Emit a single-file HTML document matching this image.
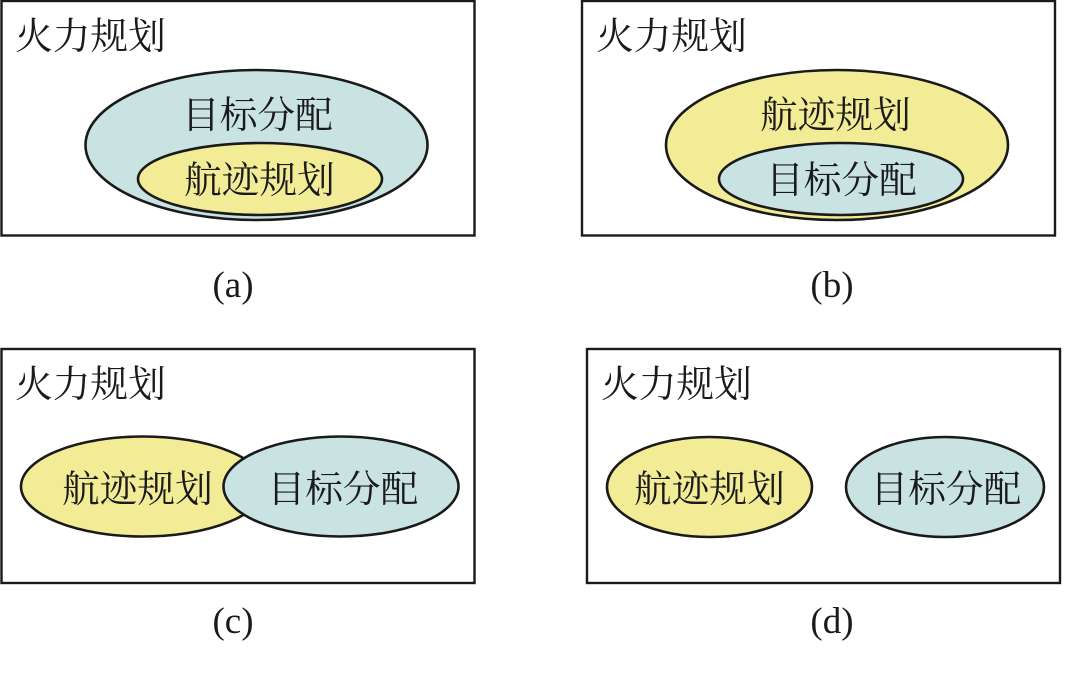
<!DOCTYPE html>
<html><head><meta charset="utf-8"><style>
html,body{margin:0;padding:0;background:#fff;width:1080px;height:695px;overflow:hidden}
svg{display:block}
text{font-family:"Liberation Serif","Noto Serif CJK SC",serif;fill:#1a1a1a}
.c{font-size:37.7px;text-anchor:start}
.l{font-size:37px;text-anchor:middle}
rect{fill:#fff;stroke:#1a1a1a;stroke-width:2.4}
ellipse{stroke:#1a1a1a;stroke-width:2.6}
.y{fill:#f3ec97}.b{fill:#c9e3e3}
</style></head><body>
<svg width="1080" height="695" viewBox="0 0 1080 695" xmlns="http://www.w3.org/2000/svg">
<rect x="1.5" y="1" width="473" height="234.500"/>
<ellipse class="b" cx="256.500" cy="145" rx="171" ry="75"/>
<ellipse class="y" cx="260" cy="179" rx="122" ry="36"/>
<text class="c" x="15" y="49">火力规划</text>
<text class="c" x="182" y="128">目标分配</text>
<text class="c" x="184" y="193">航迹规划</text>
<text class="l" x="233" y="297">(a)</text>

<rect x="582" y="1" width="473" height="234.500"/>
<ellipse class="y" cx="837" cy="145" rx="171" ry="75"/>
<ellipse class="b" cx="841" cy="179" rx="122" ry="36"/>
<text class="c" x="596" y="49">火力规划</text>
<text class="c" x="760" y="128">航迹规划</text>
<text class="c" x="766" y="193">目标分配</text>
<text class="l" x="832" y="297">(b)</text>

<rect x="1.5" y="349" width="473" height="234"/>
<ellipse class="y" cx="143" cy="486.500" rx="122" ry="50"/>
<ellipse class="b" cx="341" cy="486.500" rx="117.500" ry="50"/>
<text class="c" x="15" y="397">火力规划</text>
<text class="c" x="62" y="502">航迹规划</text>
<text class="c" x="267.500" y="502">目标分配</text>
<text class="l" x="233" y="633">(c)</text>

<rect x="587" y="349" width="473" height="234"/>
<ellipse class="y" cx="709.500" cy="487" rx="102.500" ry="50"/>
<ellipse class="b" cx="945" cy="487" rx="99" ry="50"/>
<text class="c" x="601" y="397">火力规划</text>
<text class="c" x="634" y="502">航迹规划</text>
<text class="c" x="870.500" y="502">目标分配</text>
<text class="l" x="832" y="633">(d)</text>
</svg>
</body></html>
